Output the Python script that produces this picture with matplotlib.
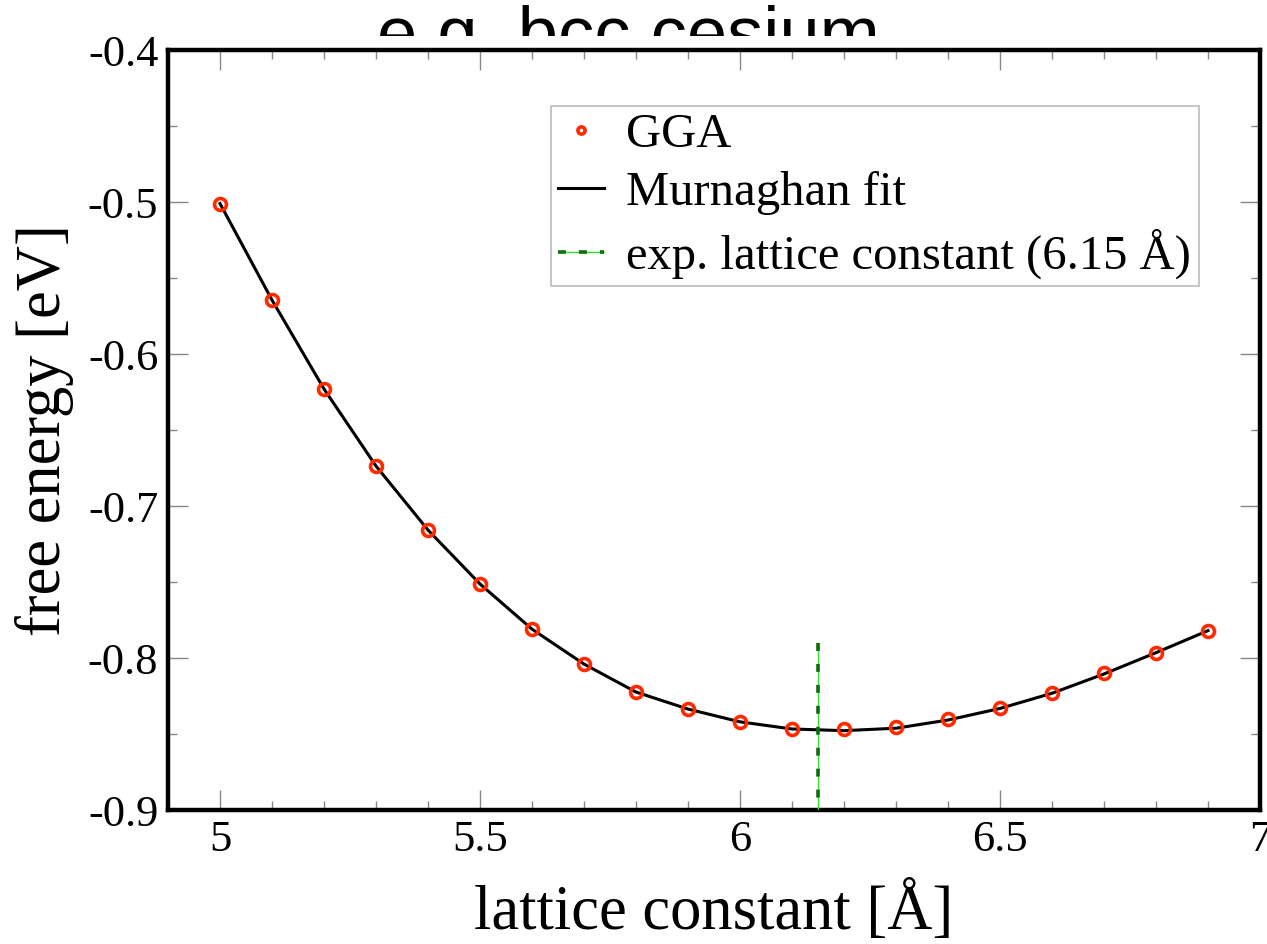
import matplotlib
matplotlib.use("Agg")
import matplotlib.pyplot as plt
from matplotlib.patches import Rectangle
from matplotlib.legend_handler import HandlerTuple

# ---- data ----
lattice = [5.0, 5.1, 5.2, 5.3, 5.4, 5.5, 5.6, 5.7, 5.8, 5.9,
           6.0, 6.1, 6.2, 6.3, 6.4, 6.5, 6.6, 6.7, 6.8, 6.9]
gga_energy = [-0.501, -0.5645, -0.623, -0.6737, -0.7158, -0.7513, -0.781, -0.804, -0.8224, -0.8336,
              -0.842, -0.8467, -0.847, -0.8454, -0.840, -0.833, -0.823, -0.810, -0.797, -0.782]
fit_x = lattice
fit_energy = [-0.501, -0.5645, -0.623, -0.6737, -0.7158, -0.7513, -0.781, -0.804, -0.8224, -0.8336,
              -0.842, -0.8467, -0.8478, -0.8462, -0.8408, -0.8332, -0.8232, -0.8105, -0.7965, -0.782]
exp_x = [6.15, 6.15]
exp_y = [-0.79, -0.9]

xticks = [5.0, 5.5, 6.0, 6.5, 7.0]
xticklabels = ["5", "5.5", "6", "6.5", "7"]
yticks = [-0.9, -0.8, -0.7, -0.6, -0.5, -0.4]
yticklabels = ["-0.9", "-0.8", "-0.7", "-0.6", "-0.5", "-0.4"]

W, H = 1267, 944
fig = plt.figure(figsize=(W / 100, H / 100), dpi=100)
serif = "Liberation Serif"

# clipped title behind the plot
fig.text(628 / W, 1 - 57 / H, "e.g. bcc cesium", ha="center", va="baseline",
         fontsize=52, family="Liberation Sans", zorder=1)
fig.add_artist(Rectangle((0, 0), 1, 1 - 36 / H, transform=fig.transFigure,
                         facecolor="white", edgecolor="none", zorder=2))

ax = fig.add_axes([168 / W, 1 - 810 / H, (1260 - 168) / W, (810 - 50) / H])
ax.set_zorder(3)

fit_line, = ax.plot(fit_x, fit_energy, color="black", lw=2.2, zorder=2)
gga_pts, = ax.plot(lattice, gga_energy, ls="none", marker="o", ms=8.6, mew=2.6,
                   mfc="none", mec="#ff2a00", zorder=4)
exp_light, = ax.plot(exp_x, exp_y, color="#33dd33", lw=1.0, zorder=3)
exp_dark, = ax.plot(exp_x, exp_y, color="#0a6e0a", lw=2.6, zorder=3)
exp_dark.set_dashes((2.2, 3.6))

ax.set_xlim(4.9, 7.0)
ax.set_ylim(-0.9, -0.4)
ax.set_xticks(xticks)
ax.set_xticklabels(xticklabels)
ax.set_yticks(yticks)
ax.set_yticklabels(yticklabels)
ax.set_xticks([v / 10 for v in range(49, 71)], minor=True)
ax.set_yticks([-0.9 + 0.05 * i for i in range(11)], minor=True)

ax.tick_params(which="both", direction="in", top=True, right=True,
               color="#888888", width=1.0)
ax.tick_params(which="major", length=14.5, labelsize=32, pad=7)
ax.tick_params(which="minor", length=6.5)
for lab in ax.get_xticklabels() + ax.get_yticklabels():
    lab.set_family(serif)

for sp in ax.spines.values():
    sp.set_linewidth(3.2)
    sp.set_color("black")

ax.set_xlabel("lattice constant [Å]", fontsize=45, family=serif, labelpad=16)
ax.set_ylabel("free energy [eV]", fontsize=45, family=serif, labelpad=10)

leg = ax.legend([gga_pts, fit_line, (exp_light, exp_dark)],
                ["GGA", "Murnaghan fit", "exp. lattice constant (6.15 Å)"],
                handler_map={tuple: HandlerTuple(ndivide=1, pad=0)},
                loc="upper left", bbox_to_anchor=((551 - 168) / 1092, (810 - 106) / 760),
                prop={"family": serif, "size": 35}, frameon=True, fancybox=False,
                edgecolor="#bbbbbb", framealpha=1, borderpad=0.15, handlelength=0.95,
                handletextpad=0.45, labelspacing=0.28, markerscale=0.6,
                borderaxespad=0)
leg.get_frame().set_linewidth(1.2)

fig.savefig("out.png", dpi=100)
